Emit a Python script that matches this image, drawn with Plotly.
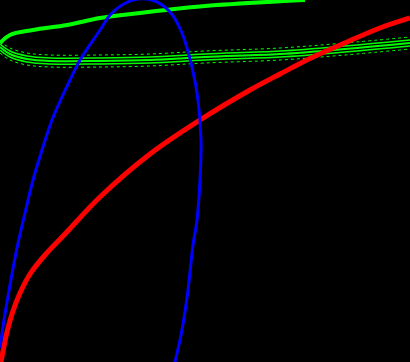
import plotly.graph_objects as go

W, H = 410, 362

red_x = [1, 4, 7, 13, 20, 30, 45, 65, 100, 150, 200, 250, 280, 313, 347, 380, 410]
red_y = [362, 346, 332, 311, 293, 274, 255, 234, 197, 154, 120, 90, 74, 57, 42, 28, 18]

blue_x = [0, 4, 10, 17, 25, 33, 42, 52, 62, 70, 80, 100, 110, 122, 138, 155, 170, 182, 192, 198, 201, 200, 197, 193, 188, 182, 175]
blue_y = [348, 320, 285, 248, 213, 180, 150, 120, 97, 80, 60, 30, 15, 5, -1, 1, 12, 33, 67, 100, 140, 180, 220, 245, 290, 330, 362]

green_top_x = [305, 205, 140, 100, 67, 33, 10, 0]
green_top_y = [0, 6, 13, 18, 25, 30, 35, 43]
green_low_x = [0, 10, 27, 50, 100, 150, 205, 280, 345, 410]
green_low_y = [47, 54, 59, 61, 61, 60, 57, 54, 49, 43]

fig = go.Figure()
fig.add_trace(go.Scatter(x=green_top_x, y=green_top_y, mode="lines",
                         line=dict(color="#00ff00", width=4, shape="spline")))
for off, wd in [(-6, 1), (-3, 1.5), (0, 2), (3, 1.5), (6, 1)]:
    fig.add_trace(go.Scatter(x=green_low_x, y=[v + off for v in green_low_y], mode="lines",
                             line=dict(color="#00ff00", width=wd, shape="spline",
                                       dash="dot" if abs(off) == 6 else "solid")))
fig.add_trace(go.Scatter(x=red_x, y=red_y, mode="lines",
                         line=dict(color="#ff0000", width=5, shape="spline")))
fig.add_trace(go.Scatter(x=blue_x, y=blue_y, mode="lines",
                         line=dict(color="#0000ff", width=3, shape="spline")))

fig.update_layout(
    width=W, height=H,
    margin=dict(l=0, r=0, t=0, b=0),
    paper_bgcolor="black", plot_bgcolor="black",
    showlegend=False,
    xaxis=dict(range=[0, W], visible=False, fixedrange=True),
    yaxis=dict(range=[H, 0], visible=False, fixedrange=True),
)
fig.write_html("out.html", config={"displayModeBar": False})
